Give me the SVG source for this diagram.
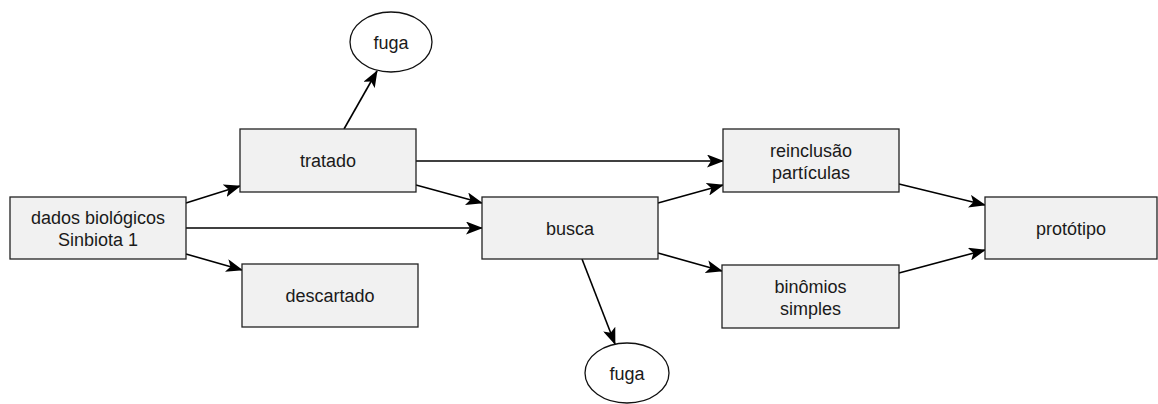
<svg xmlns="http://www.w3.org/2000/svg" width="1158" height="404" viewBox="0 0 1158 404">
<defs>
<style>
.box{fill:#f1f1f1;stroke:#222;stroke-width:1.3}
.ell{fill:#fff;stroke:#111;stroke-width:1.3}
.t{font-family:"Liberation Sans",Arial,sans-serif;font-size:18px;fill:#1a1a1a;text-anchor:middle}
.c{stroke:#000;stroke-width:1.6;fill:none;marker-end:url(#ah)}
</style>
<marker id="ah" markerWidth="17" markerHeight="13" refX="16" refY="6.5" orient="auto" markerUnits="userSpaceOnUse">
<path d="M0,0 L17,6.5 L0,13 L4,6.5 Z" fill="#000"/>
</marker>
</defs>
<rect width="1158" height="404" fill="#fff"/>
<g id="connectors">
<line class="c" x1="186" y1="203" x2="240" y2="186"/>
<line class="c" x1="186" y1="228" x2="482" y2="228"/>
<line class="c" x1="186" y1="254" x2="242" y2="270"/>
<line class="c" x1="416" y1="185" x2="482" y2="203"/>
<line class="c" x1="416" y1="161" x2="723" y2="161"/>
<line class="c" x1="344" y1="129" x2="377" y2="71"/>
<line class="c" x1="658" y1="203" x2="723" y2="185"/>
<line class="c" x1="658" y1="253" x2="722" y2="271"/>
<line class="c" x1="582" y1="259" x2="615" y2="344"/>
<line class="c" x1="899" y1="184" x2="985" y2="205"/>
<line class="c" x1="899" y1="273" x2="985" y2="250"/>
</g>
<g id="dados"><rect class="box" x="10" y="197" width="176" height="62"/><text class="t" x="98" y="223.5">dados biológicos</text><text class="t" x="98" y="245.5">Sinbiota 1</text></g>
<g id="tratado"><rect class="box" x="240" y="129" width="176" height="63"/><text class="t" x="328" y="167">tratado</text></g>
<g id="descartado"><rect class="box" x="242" y="264" width="176" height="63"/><text class="t" x="330" y="302">descartado</text></g>
<g id="busca"><rect class="box" x="482" y="197" width="176" height="62"/><text class="t" x="570" y="234.5">busca</text></g>
<g id="reinclusao"><rect class="box" x="723" y="129" width="176" height="63"/><text class="t" x="811" y="156.5">reinclusão</text><text class="t" x="811" y="178.5">partículas</text></g>
<g id="binomios"><rect class="box" x="722" y="265" width="177" height="63"/><text class="t" x="810.5" y="292.5">binômios</text><text class="t" x="810.5" y="314.5">simples</text></g>
<g id="prototipo"><rect class="box" x="985" y="197" width="172" height="62"/><text class="t" x="1071" y="234.5">protótipo</text></g>
<g id="fuga1"><ellipse class="ell" cx="391" cy="42" rx="41" ry="30"/><text class="t" x="391" y="48.5">fuga</text></g>
<g id="fuga2"><ellipse class="ell" cx="627" cy="373" rx="42" ry="30"/><text class="t" x="627" y="379.5">fuga</text></g>
</svg>
